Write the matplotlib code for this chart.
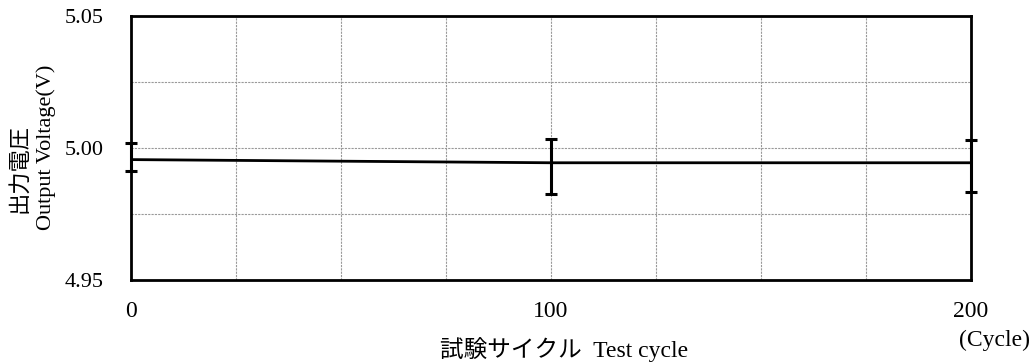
import matplotlib
matplotlib.use("Agg")
import matplotlib.pyplot as plt
from matplotlib.ticker import MultipleLocator, FixedLocator

# data
cycles = [0, 100, 200]
voltage = [4.9956, 4.9944, 4.9944]
err_low = [0.0045, 0.0118, 0.0111]
err_high = [0.0063, 0.0091, 0.0086]

x_ticks = [0, 100, 200]
y_ticks = [4.95, 5.00, 5.05]
y_tick_labels = ["4.95", "5.00", "5.05"]

fonts = ["Liberation Serif", "Noto Sans CJK JP"]
plt.rcParams["font.family"] = fonts

fig = plt.figure(figsize=(10.35, 3.64), dpi=100)
ax = fig.add_axes([0.1266, 0.2308, 0.8116, 0.7253])

ax.plot(cycles, voltage, color="black", lw=2, zorder=3)
ax.errorbar(cycles, voltage, yerr=[err_low, err_high], fmt="none",
            ecolor="black", elinewidth=2.2, capsize=4.3, capthick=2.2,
            zorder=4, clip_on=False)

ax.set_xlim(0, 200)
ax.set_ylim(4.95, 5.05)
ax.xaxis.set_major_locator(FixedLocator(x_ticks))
ax.xaxis.set_minor_locator(MultipleLocator(25))
ax.yaxis.set_major_locator(FixedLocator(y_ticks))
ax.yaxis.set_minor_locator(MultipleLocator(0.025))
ax.set_yticklabels(y_tick_labels)

ax.grid(which="both", color="#999999", linestyle=(0, (2, 1)), lw=0.8)
ax.set_axisbelow(True)
ax.tick_params(which="both", length=0)
ax.tick_params(axis="y", pad=20, labelsize=16)
ax.tick_params(axis="x", pad=15, labelsize=17)

for s in ax.spines.values():
    s.set_linewidth(2)
    s.set_zorder(5)

# y label: two rotated columns
fig.text(0.019, 0.538, "出力電圧", rotation=90, ha="center", va="center",
         fontsize=16)
fig.text(0.045, 0.595, "Output Voltage(V)", rotation=90, ha="center",
         va="center", fontsize=16)
fig.text(0.545, 0.04, "試験サイクル  Test cycle", ha="center", va="center",
         fontsize=17)
fig.text(0.995, 0.065, "(Cycle)", ha="right", va="center", fontsize=17)

fig.savefig("out.png", dpi=100)
